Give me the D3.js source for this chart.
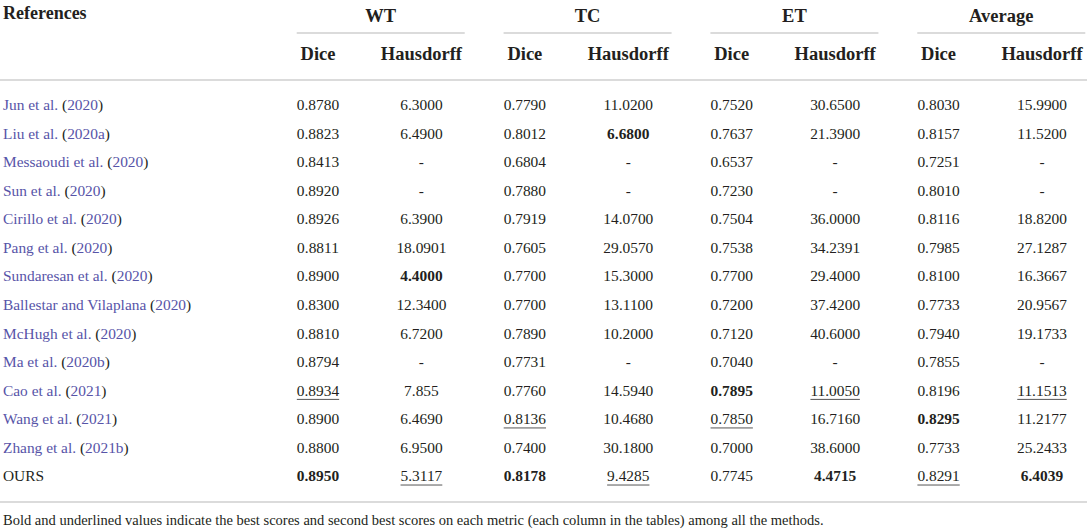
<!DOCTYPE html>
<html>
<head>
<meta charset="utf-8">
<script src="https://cdn.jsdelivr.net/npm/d3@7"></script>
<style>
  body { margin: 0; background: #fff; }
  svg text { font-family: "Liberation Serif", "Times New Roman", serif; fill: #231f20; }
</style>
</head>
<body>
<div id="table"></div>
<script>
var svgWidth = 1090;
var svgHeight = 530;

// table data
var authors = ["Jun et al.", "Liu et al.", "Messaoudi et al.", "Sun et al.", "Cirillo et al.",
  "Pang et al.", "Sundaresan et al.", "Ballestar and Vilaplana", "McHugh et al.", "Ma et al.",
  "Cao et al.", "Wang et al.", "Zhang et al.", "OURS"];
var years = ["2020", "2020a", "2020", "2020", "2020", "2020", "2020", "2020", "2020", "2020b",
  "2021", "2021", "2021b", null];

var groups = ["WT", "TC", "ET", "Average"];
var metrics = ["Dice", "Hausdorff"];

var wtDice = ["0.8780", "0.8823", "0.8413", "0.8920", "0.8926", "0.8811", "0.8900", "0.8300", "0.8810", "0.8794", "0.8934", "0.8900", "0.8800", "0.8950"];
var wtHaus = ["6.3000", "6.4900", "-", "-", "6.3900", "18.0901", "4.4000", "12.3400", "6.7200", "-", "7.855", "6.4690", "6.9500", "5.3117"];
var tcDice = ["0.7790", "0.8012", "0.6804", "0.7880", "0.7919", "0.7605", "0.7700", "0.7700", "0.7890", "0.7731", "0.7760", "0.8136", "0.7400", "0.8178"];
var tcHaus = ["11.0200", "6.6800", "-", "-", "14.0700", "29.0570", "15.3000", "13.1100", "10.2000", "-", "14.5940", "10.4680", "30.1800", "9.4285"];
var etDice = ["0.7520", "0.7637", "0.6537", "0.7230", "0.7504", "0.7538", "0.7700", "0.7200", "0.7120", "0.7040", "0.7895", "0.7850", "0.7000", "0.7745"];
var etHaus = ["30.6500", "21.3900", "-", "-", "36.0000", "34.2391", "29.4000", "37.4200", "40.6000", "-", "11.0050", "16.7160", "38.6000", "4.4715"];
var avgDice = ["0.8030", "0.8157", "0.7251", "0.8010", "0.8116", "0.7985", "0.8100", "0.7733", "0.7940", "0.7855", "0.8196", "0.8295", "0.7733", "0.8291"];
var avgHaus = ["15.9900", "11.5200", "-", "-", "18.8200", "27.1287", "16.3667", "20.9567", "19.1733", "-", "11.1513", "11.2177", "25.2433", "6.4039"];

// [row, column] of best (bold) and second best (underlined) scores
var bestCells = [[1, 3], [6, 1], [10, 4], [11, 6], [13, 0], [13, 2], [13, 5], [13, 7]];
var secondCells = [[10, 0], [10, 5], [10, 7], [11, 2], [11, 4], [13, 1], [13, 3], [13, 6]];

var footnote = "Bold and underlined values indicate the best scores and second best scores on each metric (each column in the tables) among all the methods.";

var columns = [wtDice, wtHaus, tcDice, tcHaus, etDice, etHaus, avgDice, avgHaus];

var linkColor = "#5754a8";
var ruleColor = "#cfcfcf";

var svg = d3.select("#table")
  .append("svg")
  .attr("width", svgWidth)
  .attr("height", svgHeight);

// scales: rows as bands, columns as points
var yScale = d3.scaleBand()
  .domain(d3.range(authors.length))
  .range([90.7, 490.3]);

var xScale = d3.scalePoint()
  .domain(d3.range(columns.length))
  .range([318, 1042]);

// group headers sit a little right of their column pair
var groupScale = d3.scalePoint()
  .domain(groups)
  .range([(xScale(0) + xScale(1)) / 2 + 11, (xScale(6) + xScale(7)) / 2 + 11]);

// header
svg.append("text")
  .attr("x", 3)
  .attr("y", 19)
  .attr("font-size", 18)
  .attr("font-weight", "bold")
  .text("References");

svg.selectAll(".group")
  .data(groups)
  .enter()
  .append("text")
  .attr("x", d => groupScale(d))
  .attr("y", 21.5)
  .attr("text-anchor", "middle")
  .attr("font-size", 18.5)
  .attr("font-weight", "bold")
  .text(d => d);

svg.selectAll(".grouprule")
  .data(groups)
  .enter()
  .append("line")
  .attr("x1", d => groupScale(d) - 84)
  .attr("x2", d => groupScale(d) + 84)
  .attr("y1", 33)
  .attr("y2", 33)
  .attr("stroke", ruleColor)
  .attr("stroke-width", 1.5);

svg.selectAll(".metric")
  .data(d3.range(columns.length))
  .enter()
  .append("text")
  .attr("x", d => xScale(d))
  .attr("y", 59.5)
  .attr("text-anchor", "middle")
  .attr("font-size", 18.5)
  .attr("font-weight", "bold")
  .text(d => metrics[d % 2]);

svg.append("line")
  .attr("x1", 0).attr("x2", 1087)
  .attr("y1", 80).attr("y2", 80)
  .attr("stroke", ruleColor)
  .attr("stroke-width", 1.5);

// reference names
var names = svg.selectAll(".ref")
  .data(authors)
  .enter()
  .append("text")
  .attr("x", 3)
  .attr("y", (d, i) => yScale(i) + yScale.bandwidth() / 2 + 5.2)
  .attr("font-size", 15.4);

names.each(function(d, i) {
  var t = d3.select(this);
  if (years[i] === null) {
    t.append("tspan").text(d);
    return;
  }
  t.append("tspan").attr("fill", linkColor).text(d + " ");
  t.append("tspan").text("(");
  t.append("tspan").attr("fill", linkColor).text(years[i]);
  t.append("tspan").text(")");
});

// value cells
var cells = [];
columns.forEach(function(col, c) {
  col.forEach(function(v, r) {
    cells.push({
      r: r, c: c, v: v,
      best: bestCells.some(p => p[0] === r && p[1] === c),
      second: secondCells.some(p => p[0] === r && p[1] === c)
    });
  });
});

svg.selectAll(".cell")
  .data(cells)
  .enter()
  .append("text")
  .attr("x", d => xScale(d.c))
  .attr("y", d => yScale(d.r) + yScale.bandwidth() / 2 + 5.2)
  .attr("text-anchor", "middle")
  .attr("font-size", 15.4)
  .attr("font-weight", d => d.best ? "bold" : "normal")
  .text(d => d.v)
  .each(function(d) {
    if (!d.second) return;
    var w = this.getComputedTextLength();
    var y = yScale(d.r) + yScale.bandwidth() / 2 + 9;
    svg.append("line")
      .attr("x1", xScale(d.c) - w / 2)
      .attr("x2", xScale(d.c) + w / 2)
      .attr("y1", y)
      .attr("y2", y)
      .attr("stroke", "#555")
      .attr("stroke-width", 1);
  });

// bottom rule and footnote
svg.append("line")
  .attr("x1", 0).attr("x2", 1087)
  .attr("y1", 502).attr("y2", 502)
  .attr("stroke", ruleColor)
  .attr("stroke-width", 1.5);

svg.append("text")
  .attr("x", 3)
  .attr("y", 524.5)
  .attr("font-size", 14.5)
  .text(footnote);
</script>
</body>
</html>
